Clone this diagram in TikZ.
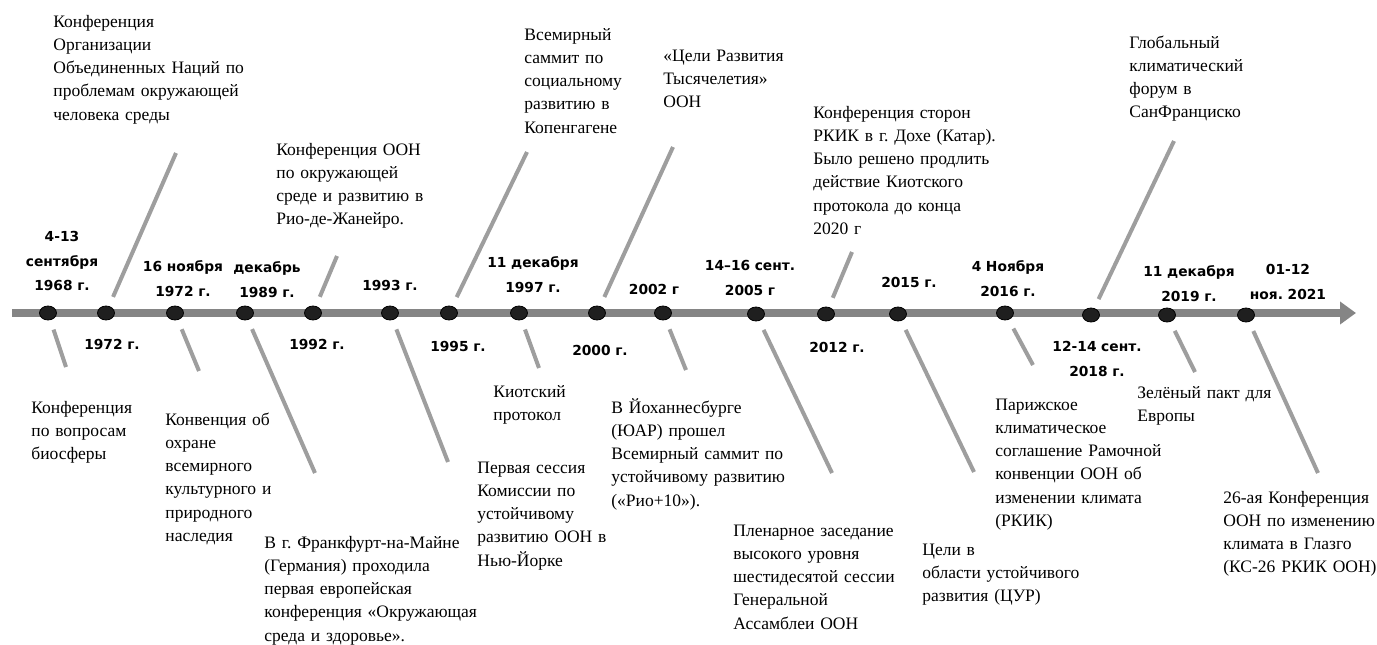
\documentclass[tikz,border=0pt]{standalone}
\usepackage{fontspec}
\setmainfont{Liberation Serif}
\newfontfamily\datefont{DejaVu Sans}
\usetikzlibrary{shapes.geometric,arrows.meta}
\frenchspacing

\begin{document}
\begin{tikzpicture}[x=0.5pt,y=-0.5pt,
    ev/.style={ellipse, fill=black!88, draw=black, minimum width=8.5pt, minimum height=7pt, inner sep=0pt},
    yearlbl/.style={font=\datefont\bfseries\fontsize{6.9}{12.25}\selectfont, text width=60pt, align=center, anchor=base, inner sep=0pt},
    eventtxt/.style={font=\fontsize{8.75}{11.65}\selectfont, text width=130pt, align=left, anchor=base west, inner sep=0pt},
    stick/.style={draw=black!38, line width=2pt, shorten <=5pt}]
    \useasboundingbox (0,0) rectangle (1377,644);

    % the time axis
    \coordinate (start) at (12,313);
    \coordinate (end) at (1356,313);
    \draw[line width=4pt, black!48, -{Triangle[width=11pt,length=8pt]}] (start) -- (end);

    % the events on the axis
    \node[ev] (p1) at (48,313) {};
    \node[ev] (p2) at (106,313) {};
    \node[ev] (p3) at (175,313) {};
    \node[ev] (p4) at (245,313) {};
    \node[ev] (p5) at (313,313) {};
    \node[ev] (p6) at (390,313) {};
    \node[ev] (p7) at (449,313) {};
    \node[ev] (p8) at (519,313) {};
    \node[ev] (p9) at (597,313) {};
    \node[ev] (p10) at (663,313) {};
    \node[ev] (p11) at (756,314) {};
    \node[ev] (p12) at (826,314) {};
    \node[ev] (p13) at (898,314) {};
    \node[ev] (p14) at (1005,313) {};
    \node[ev] (p15) at (1091,315) {};
    \node[ev] (p16) at (1167,315) {};
    \node[ev] (p17) at (1246,315) {};

    % the dates above the axis
    \node[yearlbl] (y1) at (62,241.5) {4-13\\сентября\\1968 г.};
    \node[yearlbl] (y3) at (183,271.5) {16 ноября\\1972 г.};
    \node[yearlbl] (y4) at (267,272.5) {декабрь\\1989 г.};
    \node[yearlbl] (y6) at (390,290.5) {1993 г.};
    \node[yearlbl] (y8) at (533,267.5) {11 декабря\\1997 г.};
    \node[yearlbl] (y10) at (654,294.5) {2002 г};
    \node[yearlbl] (y11) at (750,270.5) {14–16 сент.\\2005 г};
    \node[yearlbl] (y13) at (909,287.5) {2015 г.};
    \node[yearlbl] (y14) at (1008,271.5) {4 Ноября\\2016 г.};
    \node[yearlbl] (y16) at (1189,276.5) {11 декабря\\2019 г.};
    \node[yearlbl] (y17) at (1288,274.5) {01-12\\ноя. 2021};

    % the dates below the axis
    \node[yearlbl] (y2) at (112,349.5) {1972 г.};
    \node[yearlbl] (y5) at (317,349.5) {1992 г.};
    \node[yearlbl] (y7) at (458,351.5) {1995 г.};
    \node[yearlbl] (y9) at (600,355.5) {2000 г.};
    \node[yearlbl] (y12) at (837,352.5) {2012 г.};
    \node[yearlbl] (y15) at (1097,351.5) {12-14 сент.\\2018 г.};

    % the texts above the axis
    \node[eventtxt] (t2) at (53,27) {Конференция\\Организации\\Объединенных Наций по\\проблемам окружающей\\человека среды};
    \node[eventtxt] (t5) at (276,155) {Конференция ООН\\по окружающей\\среде и развитию в\\Рио-де-Жанейро.};
    \node[eventtxt] (t7) at (524,40) {Всемирный\\саммит по\\социальному\\развитию в\\Копенгагене};
    \node[eventtxt] (t9) at (663,61) {«Цели Развития\\Тысячелетия»\\ООН};
    \node[eventtxt] (t12) at (813,118) {Конференция сторон\\РКИК в г. Дохе (Катар).\\Было решено продлить\\действие Киотского\\протокола до конца\\2020 г};
    \node[eventtxt] (t15) at (1129,48) {Глобальный\\климатический\\форум в\\СанФранциско};

    % the texts below the axis
    \node[eventtxt] (t1) at (31,413) {Конференция\\по вопросам\\биосферы};
    \node[eventtxt] (t3) at (165,425) {Конвенция об\\охране\\всемирного\\культурного и\\природного\\наследия};
    \node[eventtxt] (t4) at (264,548) {В г. Франкфурт-на-Майне\\(Германия) проходила\\первая европейская\\конференция «Окружающая\\среда и здоровье».};
    \node[eventtxt] (t8) at (493,397) {Киотский\\протокол};
    \node[eventtxt] (t6) at (477,473) {Первая сессия\\Комиссии по\\устойчивому\\развитию ООН в\\Нью-Йорке};
    \node[eventtxt] (t10) at (611,413) {В Йоханнесбурге\\(ЮАР) прошел\\Всемирный саммит по\\устойчивому развитию\\(«Рио+10»).};
    \node[eventtxt] (t11) at (733,536) {Пленарное заседание\\высокого уровня\\шестидесятой сессии\\Генеральной\\Ассамблеи ООН};
    \node[eventtxt] (t13) at (922,555) {Цели в\\области устойчивого\\развития (ЦУР)};
    \node[eventtxt] (t14) at (995,410) {Парижское\\климатическое\\соглашение Рамочной\\конвенции ООН об\\изменении климата\\(РКИК)};
    \node[eventtxt] (t16) at (1137,398) {Зелёный пакт для\\Европы};
    \node[eventtxt] (t17) at (1223,503) {26-ая Конференция\\ООН по изменению\\климата в Глазго\\(КС-26 РКИК ООН)};

    % the free ends of the sticks
    \coordinate (e1) at (66,367);
    \coordinate (e2) at (176,153);
    \coordinate (e3) at (199,371);
    \coordinate (e4) at (315,473);
    \coordinate (e5) at (337,256);
    \coordinate (e6) at (448,462);
    \coordinate (e7) at (527,152);
    \coordinate (e8) at (539,368);
    \coordinate (e9) at (673,147);
    \coordinate (e10) at (686,370);
    \coordinate (e11) at (832,473);
    \coordinate (e12) at (852,252);
    \coordinate (e13) at (974,472);
    \coordinate (e14) at (1033,365);
    \coordinate (e15) at (1174,141);
    \coordinate (e16) at (1195,372);
    \coordinate (e17) at (1318,473);

    % draw the sticks
    \draw[stick] (p1) -- (e1);
    \draw[stick] (p2) -- (e2);
    \draw[stick] (p3) -- (e3);
    \draw[stick] (p4) -- (e4);
    \draw[stick] (p5) -- (e5);
    \draw[stick] (p6) -- (e6);
    \draw[stick] (p7) -- (e7);
    \draw[stick] (p8) -- (e8);
    \draw[stick] (p9) -- (e9);
    \draw[stick] (p10) -- (e10);
    \draw[stick] (p11) -- (e11);
    \draw[stick] (p12) -- (e12);
    \draw[stick] (p13) -- (e13);
    \draw[stick] (p14) -- (e14);
    \draw[stick] (p15) -- (e15);
    \draw[stick] (p16) -- (e16);
    \draw[stick] (p17) -- (e17);
\end{tikzpicture}
\end{document}
